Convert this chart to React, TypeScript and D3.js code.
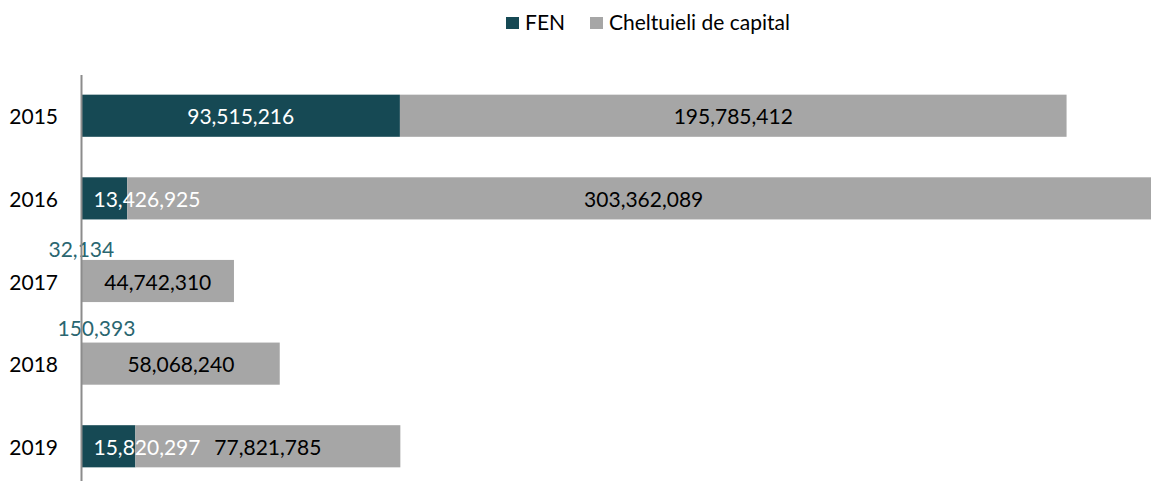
import * as d3 from "d3";

const years = ["2015", "2016", "2017", "2018", "2019"];
const fen = [93515216, 13426925, 32134, 150393, 15820297];
const capital = [195785412, 303362089, 44742310, 58068240, 77821785];
const seriesNames = ["FEN", "Cheltuieli de capital"];

const FEN_COLOR = "#164954";
const CAP_COLOR = "#a6a6a6";
const FEN_LABEL_OUT = "#2a6670";

const width = 1151;
const height = 481;
const font = "Lato, 'Open Sans', sans-serif";

// labels for tiny FEN values sit above the bar (offsets from the bar start/top)
const outsideNudge: Record<string, { dx: number; dy: number }> = {
  "2017": { dx: -33, dy: -11 },
  "2018": { dx: -24, dy: -15 },
};

const fmt = d3.format(",");

const App = () => {
  const x = d3.scaleLinear().domain([0, 320000000]).range([81.5, 81.5 + 320000000 * 3.405e-6]);

  const y = d3.scaleBand().domain(years).range([74, 488]).paddingInner(0.49).paddingOuter(0.25);

  const bw = y.bandwidth();

  return (
    <svg width={width} height={height} style={{ position: "absolute", left: 0, top: 0 }} fontFamily={font}>
      {/* legend */}
      <g fontSize={21} fill="#000">
        <rect x={506} y={17} width={13} height={12} fill={FEN_COLOR} />
        <text x={525} y={30}>{seriesNames[0]}</text>
        <rect x={590} y={17} width={13} height={12} fill={CAP_COLOR} />
        <text x={609} y={30}>{seriesNames[1]}</text>
      </g>

      {years.map((yr, i) => {
        const y0 = y(yr) as number;
        const cy = y0 + bw / 2;
        const fx0 = x(0);
        const fx1 = x(fen[i]);
        const cx1 = x(fen[i] + capital[i]);
        const fenW = fx1 - fx0;
        const nudge = outsideNudge[yr];
        return (
          <g key={yr} fontSize={21}>
            <rect x={fx0} y={y0} width={fenW} height={bw} fill={FEN_COLOR} />
            <rect x={fx1} y={y0} width={cx1 - fx1} height={bw} fill={CAP_COLOR} />
            <text x={58} y={cy} textAnchor="end" dominantBaseline="central" fill="#000">{yr}</text>
            {nudge ? (
              <text x={fx0 + nudge.dx} y={y0 + nudge.dy} dominantBaseline="central" fill={FEN_LABEL_OUT}>
                {fmt(fen[i])}
              </text>
            ) : fenW > 130 ? (
              <text x={(fx0 + fx1) / 2} y={cy} textAnchor="middle" dominantBaseline="central" fill="#fff">
                {fmt(fen[i])}
              </text>
            ) : (
              <text x={fx0 + 12} y={cy} dominantBaseline="central" fill="#fff">
                {fmt(fen[i])}
              </text>
            )}
            <text
              x={(fx1 + Math.min(cx1, 1161)) / 2}
              y={cy}
              textAnchor="middle"
              dominantBaseline="central"
              fill="#000"
            >
              {fmt(capital[i])}
            </text>
          </g>
        );
      })}

      <line x1={x(0)} x2={x(0)} y1={75} y2={height} stroke="#8c8c8c" strokeWidth={2} />
    </svg>
  );
};

export default App;
